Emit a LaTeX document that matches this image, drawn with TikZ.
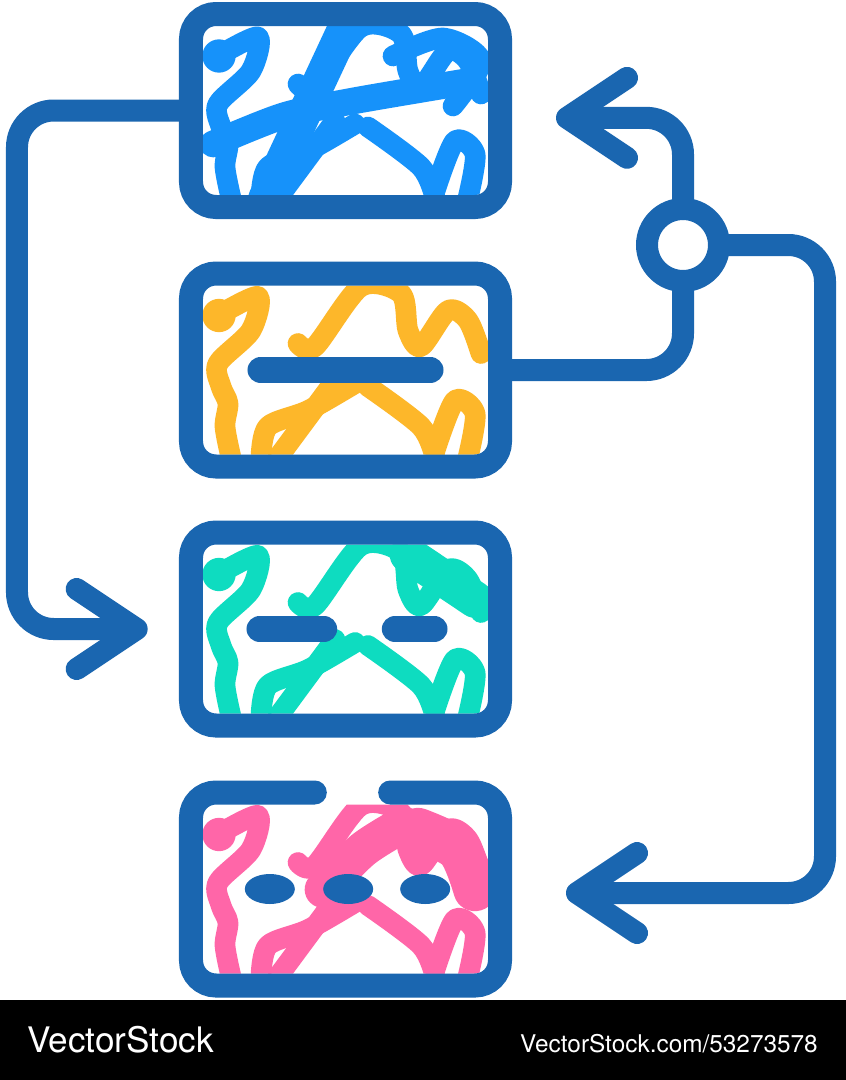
\documentclass[tikz,border=0pt]{standalone}
\usepackage{fontspec}
\setmainfont{TeX Gyre Heros}
\usetikzlibrary{positioning, arrows.meta}
\definecolor{ink}{RGB}{26,102,176}
\definecolor{sky}{RGB}{22,146,250}
\definecolor{sun}{RGB}{253,183,42}
\definecolor{mint}{RGB}{14,220,192}
\definecolor{rose}{RGB}{255,102,168}

\begin{document}
\begin{tikzpicture}[x=0.03cm, y=-0.03cm,
        box/.style={draw=ink, line width=0.72cm, rounded corners=0.75cm, minimum width=9.27cm, minimum height=5.79cm, inner sep=0pt, outer sep=0pt},
        rim/.style={draw=ink, line width=0.72cm, rounded corners=0.75cm, line cap=round},
        link/.style={draw=ink, line width=0.66cm, line cap=round, rounded corners=1.1cm},
        tip/.style={-{Straight Barb[length=1.8cm, width=2.4cm, round]}},
        scrib/.style={line width=0.62cm, line cap=round, line join=round},
        bar/.style={draw=ink, line width=0.8cm, line cap=round}]
    \useasboundingbox (0,0) rectangle (846,1080);
    \fill[white] (0,0) rectangle (846,1000);
    \fill[black] (0,1000) rectangle (846,1080);

    \foreach \yy/\cc in {26/sky, 285.5/sun, 544.5/mint, 804.5/rose} {
        \begin{scope}[shift={(203,\yy)}]
            \clip[rounded corners=0.4cm] (0,0) rectangle (285,169);
            \fill[\cc] (16,30) circle (0.5cm);
            \draw[scrib, \cc] plot[smooth] coordinates {(15,30) (55,11) (48,45) (15,78) (18,101) (25,118) (22,141) (28,172)};
            \draw[scrib, \cc] plot[smooth] coordinates {(95,58) (112,61) (158,1) (198,8) (205,45) (218,61) (245,25) (265,35) (278,68)};
            \draw[scrib, \cc] plot[smooth] coordinates {(152,98) (105,125) (65,141) (58,172)};
            \draw[scrib, \cc] (132,95) -- (75,172);
            \draw[scrib, \cc] plot[smooth] coordinates {(165,101) (218,141) (232,172)};
            \draw[scrib, \cc] plot[smooth] coordinates {(232,165) (252,115) (272,128) (265,172)};
        \end{scope}
    }
    \begin{scope}[shift={(203,26)}]
        \clip[rounded corners=0.4cm] (0,0) rectangle (285,169);
        \draw[scrib, sky, line width=1cm] (62,172) -- (140,5);
        \draw[scrib, sky, line width=0.8cm] plot[smooth] coordinates {(10,118) (80,90) (150,75) (268,55)};
        \draw[scrib, sky] plot[smooth] coordinates {(190,30) (240,12) (278,35) (250,80)};
    \end{scope}
    \begin{scope}[shift={(203,544.5)}]
        \clip[rounded corners=0.4cm] (0,0) rectangle (285,169);
        \draw[scrib, mint, line width=1.1cm] (205,10) -- (272,55);
    \end{scope}
    \begin{scope}[shift={(203,804.5)}]
        \clip[rounded corners=0.4cm] (0,0) rectangle (285,169);
        \draw[scrib, rose, line width=1.1cm] plot[smooth] coordinates {(120,85) (160,45) (200,20)};
        \draw[scrib, rose, line width=1.3cm] plot[smooth] coordinates {(215,25) (255,45) (272,85)};
    \end{scope}

    \node[box] (b1) at (345.5,110.5) {};
    \node[box] (b2) at (345.5,370) {};
    \node[box] (b3) at (345.5,629) {};
    \node[box, draw=none] (b4) at (345.5,889) {};
    \draw[rim] ([xshift=-0.92cm]b4.north) -- (b4.north west) -- (b4.south west) -- (b4.south east) -- (b4.north east) -- ([xshift=1.34cm]b4.north);
    \node[draw=ink, circle, line width=0.66cm, minimum size=2.16cm, inner sep=0pt, outer sep=0pt] (j) at (683,245) {};

    \draw[bar] ([xshift=-2.54cm]b2.center) -- ([xshift=2.54cm]b2.center);
    \draw[bar] ([xshift=-2.57cm]b3.center) -- ([xshift=-0.65cm]b3.center);
    \draw[bar] ([xshift=1.49cm]b3.center) -- ([xshift=2.66cm]b3.center);
    \fill[ink] ([xshift=-2.27cm]b4.center) ellipse [x radius=0.75cm, y radius=0.45cm];
    \fill[ink] ([xshift=0.08cm]b4.center) ellipse [x radius=0.75cm, y radius=0.45cm];
    \fill[ink] ([xshift=2.39cm]b4.center) ellipse [x radius=0.75cm, y radius=0.45cm];

    \draw[link, tip, shorten >=1.3cm] (b1.west) -- ++(-174,0) |- (b3.west);
    \draw[link] (b2.east) -| (j.south);
    \draw[link, tip, shorten >=1.68cm] (j.north) |- ([yshift=-0.22cm]b1.east);
    \draw[link, tip, shorten >=1.98cm] (j.east) -- ++(106,0) |- ([yshift=-0.12cm]b4.east);

    \node[anchor=base west, text=white, font=\fontsize{30}{32}\selectfont, inner sep=0pt] (brand) at (27,1052) {VectorStock};
    \node[anchor=base east, text=white, font=\fontsize{20.8}{22}\selectfont, inner sep=0pt] (ref) at (818,1052) {VectorStock.com/53273578};
\end{tikzpicture}
\end{document}
